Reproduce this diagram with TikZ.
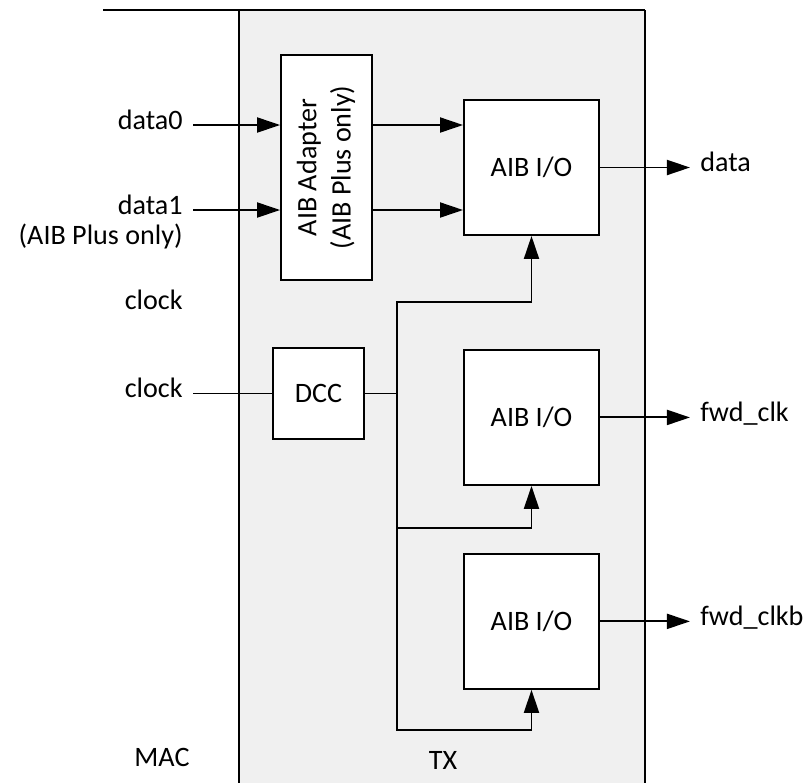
\documentclass[tikz,border=0pt]{standalone}
\usepackage{fontspec}
\setmainfont{Carlito}
\usetikzlibrary{positioning, arrows.meta}

\begin{document}
\begin{tikzpicture}[
      % ブロックの基本スタイル
      block/.style={rectangle, draw, line width=1.1pt, fill=white, align=center,
                    minimum width=2.7cm, minimum height=2.7cm, inner sep=0pt},
      smallblock/.style={block, minimum width=1.82cm, minimum height=1.82cm},
      % 線と矢印
      wire/.style={draw, line width=1.1pt},
      arr/.style={wire, -{Triangle[length=0.46cm, width=0.3cm]}},
      lbl/.style={inner sep=0.2cm, text height=0.7em, text depth=0.2em},
      font=\fontsize{16}{19.5}\selectfont
    ]
    \useasboundingbox (0,0) rectangle (16.24,-15.66);

    % --- 背景：MAC と TX ---
    \fill[black!6] (4.78,-0.2) rectangle (12.9,-15.66);
    \draw[wire] (2.06,-0.2) -- (12.9,-0.2);
    \draw[wire] (4.78,-0.2) -- (4.78,-15.66);
    \draw[wire] (12.9,-0.2) -- (12.9,-15.66);
    \node (mac) at (3.24,-15.14) {MAC};
    \node (tx) at (8.86,-15.2) {TX};

    % --- ブロック ---
    \node [block] (io1) at (10.63,-3.35) {AIB I/O};
    \node [block, below=2.26cm of io1] (io2) {AIB I/O};
    \node [block, below=1.34cm of io2] (io3) {AIB I/O};
    \node [block, minimum width=1.82cm, minimum height=4.5cm, left=1.8cm of io1] (adapter)
          {\rotatebox{90}{\begin{tabular}{@{}c@{}}AIB Adapter\\(AIB Plus only)\end{tabular}}};
    \node [smallblock] (dcc) at (6.37,-7.87) {DCC};

    % --- 入力側 ---
    \node [lbl, anchor=east] (data0) at (3.86,-2.5) {data0};
    \node [lbl, anchor=east] (data1) at (3.86,-4.2) {data1};
    \node [lbl, anchor=east] (plusonly) at (3.86,-4.8) {(AIB Plus only)};
    \node [lbl, anchor=east] (clkfree) at (3.86,-6.1) {clock};
    \node [lbl, anchor=east] (clkin) at (3.86,-7.87) {clock};

    % --- 出力側 ---
    \node [lbl, right=1.8cm of io1] (dataout) {data};
    \node [lbl, right=1.8cm of io2] (fwdclk) {fwd\_clk};
    \node [lbl, right=1.8cm of io3] (fwdclkb) {fwd\_clkb};

    % --- 矢印 ---
    \draw [arr] (data0.east) -- (data0.east -| adapter.west);
    \draw [arr] (data1.east) -- (data1.east -| adapter.west);
    \draw [arr] (data0.east -| adapter.east) -- (data0.east -| io1.west);
    \draw [arr] (data1.east -| adapter.east) -- (data1.east -| io1.west);
    \draw [wire] (clkin.east) -- (dcc.west);

    % クロック分配
    \coordinate (split) at (7.94,-7.87);
    \coordinate (b1) at (7.94,-6.04);
    \coordinate (b2) at (7.94,-10.56);
    \coordinate (b3) at (7.94,-14.6);
    \draw [wire] (dcc.east) -- (split);
    \draw [arr] (split) -- (b1) -| (io1.south);
    \draw [arr] (split) -- (b2) -| (io2.south);
    \draw [arr] (split) -- (b3) -| (io3.south);

    \draw [arr] (io1) -- (dataout);
    \draw [arr] (io2) -- (fwdclk);
    \draw [arr] (io3) -- (fwdclkb);

    \end{tikzpicture}
\end{document}
